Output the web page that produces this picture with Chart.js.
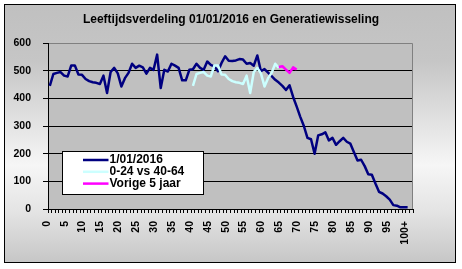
<!DOCTYPE html>
<html><head><meta charset="utf-8">
<script src="https://cdn.jsdelivr.net/npm/chart.js@4/dist/chart.umd.min.js"></script>
<style>html,body{margin:0;padding:0;background:#fff;}#wrap{position:relative;width:462px;height:269px;}</style>
</head><body><div id="wrap"><canvas id="c" width="462" height="269"></canvas></div>
<script>
const chartTitle = 'Leeftijdsverdeling 01/01/2016 en Generatiewisseling';
const ages = ['0','1','2','3','4','5','6','7','8','9','10','11','12','13','14','15','16','17','18','19',
'20','21','22','23','24','25','26','27','28','29','30','31','32','33','34','35','36','37','38','39',
'40','41','42','43','44','45','46','47','48','49','50','51','52','53','54','55','56','57','58','59',
'60','61','62','63','64','65','66','67','68','69','70','71','72','73','74','75','76','77','78','79',
'80','81','82','83','84','85','86','87','88','89','90','91','92','93','94','95','96','97','98','99','100+',''];
const tickLabels = ['0','5','10','15','20','25','30','35','40','45','50','55','60','65','70','75','80','85','90','95','100+'];
const yTicks = [0,100,200,300,400,500,600];
const seriesNames = ['1/01/2016','0-24 vs 40-64','Vorige 5 jaar'];
const pop2016 = [445,488,492,495,482,479,519,519,486,485,470,462,458,456,452,482,419,495,510,490,
443,473,492,525,510,518,512,489,510,503,558,437,503,497,525,518,510,465,465,503,
505,525,510,503,533,521,515,498,528,552,536,535,537,542,540,525,528,518,555,498,
506,493,480,467,457,445,430,447,405,370,333,300,257,252,200,266,270,277,248,257,
232,245,257,243,236,205,175,178,155,126,124,92,62,56,46,34,14,12,6,6,6];
const gen0to24 = [445,488,492,495,482,479,519,519,486,485,470,462,458,456,452,482,419,495,510,490,443,473,492,525,510];
const gen0to24From = '40';
const prev5 = [513,516,504,492,512,504];
const prev5From = '64';

const seriesColors = ['#000080','#ccffff','#ff00ff'];
const FONT = '"Liberation Sans", Arial, sans-serif';

function placeAt(values, fromLabel){
  const s = ages.indexOf(fromLabel);
  return values.map((v,k)=>({x: ages[s+k], y: v}));
}

const framePlugin = {
  id: 'frame',
  beforeDraw(chart){
    const ctx = chart.ctx, a = chart.chartArea;
    ctx.save();
    ctx.fillStyle = '#ffffff'; ctx.fillRect(0,0,chart.width,chart.height);
    const g = ctx.createLinearGradient(0,5,0,263);
    g.addColorStop(0,'#c0c0c0');
    g.addColorStop(0.22,'#c6c6c6');
    g.addColorStop(0.62,'#f6f6f6');
    g.addColorStop(0.8,'#e4e4e4');
    g.addColorStop(1,'#c6c6c6');
    ctx.fillStyle = g; ctx.fillRect(5,5,451,258);
    ctx.strokeStyle = '#000'; ctx.lineWidth = 1; ctx.strokeRect(4.5,4.5,451,258);
    ctx.fillStyle = '#c0c0c0'; ctx.fillRect(a.left,a.top,a.right-a.left,a.bottom-a.top);
    ctx.restore();
  },
  beforeDatasetsDraw(chart){
    const ctx = chart.ctx, a = chart.chartArea;
    ctx.save();
    ctx.strokeStyle = '#808080'; ctx.lineWidth = 1;
    ctx.beginPath();
    ctx.moveTo(a.left+1, a.top+0.5); ctx.lineTo(a.right-0.5, a.top+0.5); ctx.lineTo(a.right-0.5, a.bottom);
    ctx.stroke();
    ctx.restore();
  },
  afterDraw(chart){
    const ctx = chart.ctx;
    ctx.save();
    ctx.fillStyle = '#fff'; ctx.fillRect(62,151,141,43.5);
    ctx.strokeStyle = '#000'; ctx.lineWidth = 1; ctx.strokeRect(62.5,151.5,141,43);
    const rows = [160,171.8,183.6];
    ctx.font = 'bold 12px ' + FONT; ctx.textBaseline = 'middle'; ctx.textAlign = 'left';
    chart.data.datasets.forEach((ds,i)=>{
      ctx.strokeStyle = ds.borderColor; ctx.lineWidth = 2.5; ctx.lineCap = 'butt';
      ctx.beginPath(); ctx.moveTo(83,rows[i]); ctx.lineTo(108.5,rows[i]); ctx.stroke();
      ctx.fillStyle = '#000'; ctx.fillText(ds.label, 109.5, rows[i]);
    });
    ctx.restore();
  }
};

new Chart(document.getElementById('c'), {
  type: 'line',
  data: {
    labels: ages,
    datasets: [
      {label: seriesNames[0], data: pop2016, borderColor: seriesColors[0], order: 3},
      {label: seriesNames[1], data: placeAt(gen0to24, gen0to24From), borderColor: seriesColors[1], order: 2},
      {label: seriesNames[2], data: placeAt(prev5, prev5From), borderColor: seriesColors[2], order: 1}
    ]
  },
  options: {
    responsive: false, animation: false, devicePixelRatio: 1,
    elements: {
      line: {borderWidth: 2.5, tension: 0, borderJoinStyle: 'round', borderCapStyle: 'butt', fill: false},
      point: {radius: 0, hoverRadius: 0}
    },
    layout: {padding: {top: 6, left: 0, right: 0, bottom: 0}},
    plugins: {
      legend: {display: false},
      tooltip: {enabled: false},
      title: {display: true, text: chartTitle, color: '#000',
        font: {family: FONT, size: 12, weight: 'bold'}, padding: {top: 6.8, bottom: 15.8}}
    },
    scales: {
      x: {
        type: 'category', offset: true,
        grid: {display: true, drawOnChartArea: false, drawTicks: true, tickLength: 4, color: '#000', tickColor: '#000', offset: true},
        border: {display: true, color: '#000', width: 1},
        ticks: {autoSkip: false, maxRotation: 90, minRotation: 90, padding: 8, labelOffset: -3, color: '#000',
          font: {family: FONT, size: 10.5, weight: 'bold'},
          callback: (v, i) => tickLabels.includes(ages[i]) ? ages[i] : ''},
        afterFit: s => { s.height = 60; }
      },
      y: {
        position: 'left', min: yTicks[0], max: yTicks[yTicks.length-1],
        afterBuildTicks: s => { s.ticks = yTicks.map(v=>({value: v})); },
        grid: {color: c => (c.tick && c.tick.value === 600) ? 'rgba(0,0,0,0)' : '#000', tickColor: '#000', tickLength: 5, lineWidth: 1},
        border: {display: true, color: '#000', width: 1},
        ticks: {padding: 12, color: '#000', font: {family: FONT, size: 10.5, weight: 'bold'}},
        afterFit: s => { s.width = 48; }
      },
      yRight: {
        position: 'right', display: true,
        grid: {display: false}, border: {display: false}, ticks: {display: false},
        afterFit: s => { s.width = 49; }
      }
    }
  },
  plugins: [framePlugin]
});
</script>
</body></html>
